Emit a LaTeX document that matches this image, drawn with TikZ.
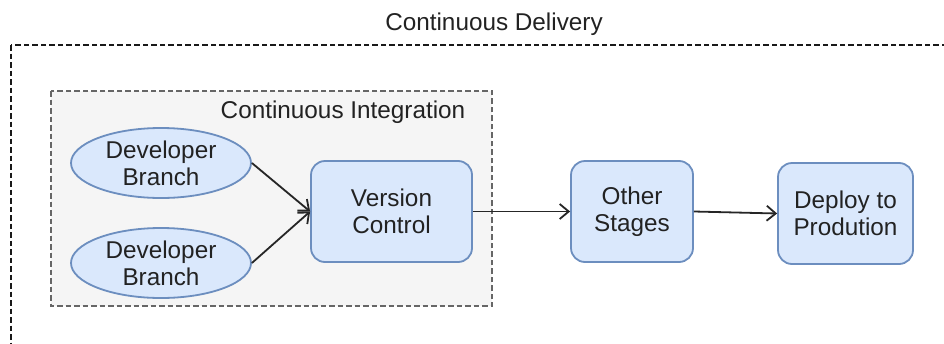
\documentclass[tikz,border=0pt]{standalone}
\usepackage{fontspec}
\setmainfont{Liberation Sans}
\usetikzlibrary{shapes.geometric,arrows.meta}

\definecolor{boxfill}{HTML}{DAE8FC}
\definecolor{boxline}{HTML}{6C8EBF}
\definecolor{groupfill}{HTML}{F5F5F5}
\definecolor{groupline}{HTML}{666666}
\definecolor{textcol}{HTML}{222222}

\tikzset{
  lbl/.style={font=\fontsize{24.3}{27}\selectfont, text=textcol, align=center},
  stagebox/.style={lbl, draw=boxline, fill=boxfill, line width=1.8pt,
    rounded corners=14pt, inner sep=0pt},
  branch/.style={lbl, ellipse, draw=boxline, fill=boxfill, line width=1.8pt,
    inner sep=0pt, minimum width=180pt, minimum height=70pt},
  flow/.style={draw=black!85, line width=1.8pt,
    -{Straight Barb[length=9pt, width=15pt, line width=1.8pt]}},
}

\begin{document}
\begin{tikzpicture}[x=1pt, y=-1pt]
  \useasboundingbox (0,0) rectangle (944,343);

  % outer delivery boundary (runs past the right and bottom edges)
  \begin{scope}
    \clip (0,0) rectangle (944,343);
    \draw[black!90, line width=1.8pt, dash pattern=on 5.5pt off 3pt]
      (11,45) rectangle (970,370);
  \end{scope}
  \node[lbl] (cdtitle) at (494,24) {Continuous Delivery};

  % integration group
  \draw[groupline, fill=groupfill, line width=1.5pt, dash pattern=on 5.5pt off 3pt]
    (51,91) rectangle (492,306);
  \node[lbl] (cititle) at (343,112) {Continuous Integration};

  % developer branches
  \node[branch] (dev1) at (161,163) {Developer\\Branch};
  \node[branch] (dev2) at (161,263) {Developer\\Branch};

  % pipeline stages
  \node[stagebox, minimum width=161pt, minimum height=101pt] (vc) at (391.5,211.5) {Version\\Control};
  \node[stagebox, minimum width=122pt, minimum height=101pt] (other) at (632,211.5) {Other\\Stages};
  \node[stagebox, minimum width=135pt, minimum height=101pt] (deploy) at (845.5,213.5) {Deploy to\\Prodution};

  % connectors
  \draw[flow] (dev1.east) -- (vc.west);
  \draw[flow] (dev2.east) -- (vc.west);
  \draw[flow] (vc.east) -- (other.west);
  \draw[flow] (other.east) -- (deploy.west);
\end{tikzpicture}
\end{document}
